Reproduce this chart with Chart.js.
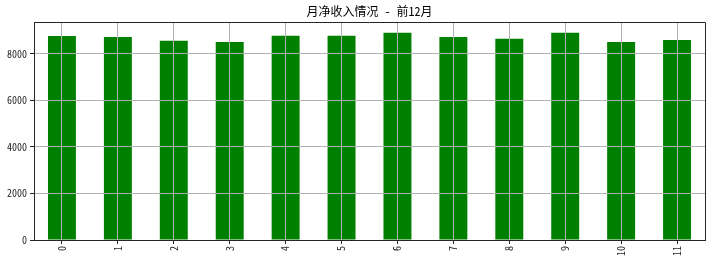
<!DOCTYPE html>
<html lang="zh">
<head>
  <meta charset="UTF-8">
  <title>月净收入情况</title>
  <script src="https://cdn.jsdelivr.net/npm/chart.js"></script>
  <style>
    html, body { margin: 0; padding: 0; background: #fff; }
    .chart-box { width: 714px; height: 264px; }
  </style>
</head>
<body>
  <div class="chart-box"><canvas id="incomeChart"></canvas></div>
  <script>
    // data
    const chartTitle = "月净收入情况 - 前12月";
    const monthLabels = ["0", "1", "2", "3", "4", "5", "6", "7", "8", "9", "10", "11"];
    const netIncome = [8770, 8730, 8560, 8515, 8775, 8775, 8905, 8730, 8645, 8905, 8515, 8600];
    const yTicks = [0, 2000, 4000, 6000, 8000];
    const yMax = 9370;

    const cjkMono = "'Noto Sans Mono CJK SC', 'Noto Sans CJK SC', sans-serif";
    const tickFont = { family: cjkMono, size: 10 };

    // title centred over the plot area + top/right spines
    const frame = {
      id: "frame",
      afterDraw(chart) {
        const { ctx, chartArea: a } = chart;
        ctx.save();
        ctx.strokeStyle = "#262626";
        ctx.lineWidth = 1;
        ctx.beginPath();
        ctx.moveTo(a.left, a.top + 0.5);
        ctx.lineTo(a.right + 0.5, a.top + 0.5);
        ctx.lineTo(a.right + 0.5, a.bottom);
        ctx.stroke();
        ctx.fillStyle = "#000";
        ctx.font = "12px " + cjkMono;
        ctx.textAlign = "center";
        ctx.textBaseline = "alphabetic";
        ctx.fillText(chartTitle, (a.left + a.right) / 2, a.top - 6);
        ctx.restore();
      }
    };

    new Chart(document.getElementById("incomeChart"), {
      type: "bar",
      data: {
        labels: monthLabels,
        datasets: [{
          data: netIncome,
          backgroundColor: "#008000",
          borderWidth: 0,
          barPercentage: 0.5,
          categoryPercentage: 1.0
        }]
      },
      options: {
        responsive: true,
        maintainAspectRatio: false,
        animation: false,
        layout: { padding: { top: 22, right: 9, left: 0, bottom: 0 } },
        plugins: { legend: { display: false }, tooltip: { enabled: false } },
        scales: {
          x: {
            offset: true,
            grid: { z: 1, offset: false, color: "#b0b0b0", tickColor: "#262626", tickLength: 4, lineWidth: 1 },
            border: { z: 2, color: "#262626", width: 1 },
            ticks: { color: "#262626", font: tickFont, minRotation: 90, maxRotation: 90, padding: 2 },
            afterFit: s => { s.height = 24; }
          },
          y: {
            min: 0,
            max: yMax,
            grid: { z: 1, color: "#b0b0b0", tickColor: "#262626", tickLength: 4, lineWidth: 1 },
            border: { z: 2, color: "#262626", width: 1 },
            ticks: { color: "#262626", font: tickFont, padding: 3, callback: v => String(v) },
            afterBuildTicks: s => { s.ticks = yTicks.map(v => ({ value: v })); },
            afterFit: s => { s.width = 34; }
          }
        }
      },
      plugins: [frame]
    });
  </script>
</body>
</html>
